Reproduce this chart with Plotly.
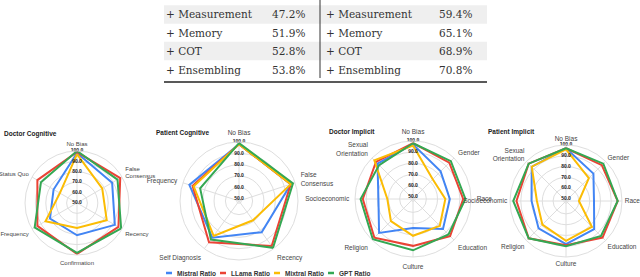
import plotly.graph_objects as go

W, H = 640, 277

# ---------------- table data ----------------
table_methods = ["+ Measurement", "+ Memory", "+ COT", "+ Ensembling"]
table_left = ["47.2%", "51.9%", "52.8%", "53.8%"]
table_right = ["59.4%", "65.1%", "68.9%", "70.8%"]

# ---------------- radar data ----------------
series_names = ["Mistral Ratio", "LLama Ratio", "Mixtral Ratio", "GPT Ratio"]
series_colors = ["#4285F4", "#EA4335", "#FBBC04", "#34A853"]

chart_titles = ["Doctor Cognitive", "Patient Cognitive", "Doctor Implicit", "Patient Implicit"]

dc_axes = ["No Bias", "False Consensus", "Recency", "Confirmation", "Frequency", "Status Quo"]
dc_mistral = [98, 89, 92, 81, 80, 76]
dc_llama = [99, 98, 96, 99, 94, 94]
dc_mixtral = [97, 78, 83, 74, 85, 69]
dc_gpt = [100, 95, 99, 98, 97, 90]

pc_axes = ["No Bias", "False Consensus", "Recency", "Self Diagnosis", "Frequency"]
pc_mistral = [98, 96, 82, 88, 94]
pc_llama = [98, 96, 97, 93, 91]
pc_mixtral = [98, 96, 69, 86, 90]
pc_gpt = [99, 98, 99, 90, 84]

imp_axes = ["No Bias", "Gender", "Race", "Education", "Culture", "Religion",
            "Socioeconomic", "Sexual Orientation"]
di_mistral = [97, 83, 81, 86, 74, 91, 79, 93]
di_llama = [98, 94, 93, 95, 90, 97, 93, 95]
di_mixtral = [96, 73, 77, 82, 81, 76, 71, 97]
di_gpt = [98, 96, 95, 93, 94, 99, 95, 91]

pi_mistral = [97, 84, 74, 85, 88, 84, 80, 93]
pi_llama = [97, 95, 96, 96, 89, 97, 94, 97]
pi_mixtral = [96, 78, 60, 82, 85, 79, 75, 93]
pi_gpt = [97, 97, 96, 94, 90, 97, 97, 97]

radial_ticks = [50, 60, 70, 80, 90, 100]

charts = [
    dict(axes=dc_axes, data=[dc_mistral, dc_llama, dc_mixtral, dc_gpt], rmin=50,
         cx=77, cy=203, R=52, tx=2, ty=134, tl=2, fs=6.0),
    dict(axes=pc_axes, data=[pc_mistral, pc_llama, pc_mixtral, pc_gpt], rmin=48,
         cx=239, cy=201, R=59, tx=154, ty=133, tl=4, fs=6.5),
    dict(axes=imp_axes, data=[di_mistral, di_llama, di_mixtral, di_gpt], rmin=48,
         cx=413, cy=199, R=58, tx=327, ty=132, tl=4, fs=6.5),
    dict(axes=imp_axes, data=[pi_mistral, pi_llama, pi_mixtral, pi_gpt], rmin=48,
         cx=566, cy=201, R=56, tx=486, ty=132, tl=1, fs=6.5),
]


def px(x):
    return x / W


def py(y):
    return 1 - y / H


def two_line(s):
    if s in ("False Consensus", "Sexual Orientation"):
        a, b = s.split(" ")
        return a + "<br>" + b
    return s


fig = go.Figure()
layout_polars = {}
annotations = []
shapes = []

for i, ch in enumerate(charts):
    pid = "polar" if i == 0 else f"polar{i + 1}"
    axes = ch["axes"]
    for name, color, vals in zip(series_names, series_colors, ch["data"]):
        fig.add_trace(go.Scatterpolar(
            r=list(vals) + [vals[0]], theta=list(axes) + [axes[0]],
            mode="lines", line=dict(color=color, width=2),
            name=name, showlegend=False, subplot=pid, hoverinfo="skip"))
    fig.add_trace(go.Scatterpolar(
        r=radial_ticks, theta=[axes[0]] * len(radial_ticks),
        mode="text", text=[f"{v:.1f}" for v in radial_ticks],
        textposition="middle center",
        textfont=dict(size=5, color="#222", family="Liberation Sans", weight="bold"),
        showlegend=False, subplot=pid, hoverinfo="skip"))
    cx, cy, R = ch["cx"], ch["cy"], ch["R"]
    layout_polars[pid] = dict(
        domain=dict(x=[px(cx - R), px(cx + R)], y=[py(cy + R), py(cy - R)]),
        bgcolor="white",
        radialaxis=dict(range=[ch["rmin"], 100], tickvals=radial_ticks,
                        showticklabels=False, showline=False, ticks="",
                        gridcolor="#dedede", gridwidth=1),
        angularaxis=dict(rotation=90, direction="clockwise", type="category",
                         categoryarray=axes, tickmode="array", tickvals=axes,
                         ticktext=[two_line(a) for a in axes],
                         tickfont=dict(size=ch["fs"], color="#444", family="Liberation Sans"),
                         linecolor="#dedede", gridcolor="#dedede",
                         ticks="outside", ticklen=ch["tl"],
                         tickcolor="rgba(0,0,0,0)"),
    )
    annotations.append(dict(
        x=px(ch["tx"]), y=py(ch["ty"]), xref="paper", yref="paper",
        xanchor="left", yanchor="middle", showarrow=False,
        text=f"<b>{chart_titles[i]}</b>",
        font=dict(size=6.5, color="#222", family="Liberation Sans")))

# custom legend
for j, (name, color) in enumerate(zip(series_names, series_colors)):
    x0 = 166 + 54 * j
    shapes.append(dict(type="line", xref="paper", yref="paper",
                       x0=px(x0), x1=px(x0 + 6), y0=py(273), y1=py(273),
                       line=dict(color=color, width=2.5)))
    annotations.append(dict(
        x=px(x0 + 9), y=py(273), xref="paper", yref="paper",
        xanchor="left", yanchor="middle", showarrow=False,
        text=f"<b>{name}</b>",
        font=dict(size=6.5, color="#333", family="Liberation Sans")))

# table
row_y = [14.5, 33, 51, 69.5]
tfont = dict(size=10.5, color="#333", family="DejaVu Serif")
for k, yc in enumerate(row_y):
    if k % 2 == 0:
        shapes.append(dict(type="rect", xref="paper", yref="paper", layer="below",
                           x0=px(164), x1=px(487), y0=py(yc + 9.2), y1=py(yc - 9.2),
                           fillcolor="#efefef", line=dict(width=0)))
    annotations.append(dict(x=px(164), y=py(yc), xref="paper", yref="paper",
                            xanchor="left", yanchor="middle", showarrow=False,
                            text=table_methods[k], font=tfont))
    annotations.append(dict(x=px(307), y=py(yc), xref="paper", yref="paper",
                            xanchor="right", yanchor="middle", showarrow=False,
                            text=table_left[k], font=tfont))
    annotations.append(dict(x=px(324), y=py(yc), xref="paper", yref="paper",
                            xanchor="left", yanchor="middle", showarrow=False,
                            text=table_methods[k], font=tfont))
    annotations.append(dict(x=px(474), y=py(yc), xref="paper", yref="paper",
                            xanchor="right", yanchor="middle", showarrow=False,
                            text=table_right[k], font=tfont))

shapes.append(dict(type="line", xref="paper", yref="paper",
                   x0=px(320), x1=px(320), y0=py(0), y1=py(78),
                   line=dict(color="#333", width=1)))
shapes.append(dict(type="line", xref="paper", yref="paper",
                   x0=px(164), x1=px(487), y0=py(82), y1=py(82),
                   line=dict(color="#222", width=1.6)))

fig.update_layout(
    width=W, height=H, autosize=False,
    margin=dict(l=0, r=0, t=0, b=0),
    paper_bgcolor="white", plot_bgcolor="white",
    showlegend=False,
    annotations=annotations, shapes=shapes,
    **layout_polars,
)

fig.write_html("out.html", config={"displayModeBar": False},
               post_script="document.body.style.margin='0';document.body.style.overflow='hidden';")
